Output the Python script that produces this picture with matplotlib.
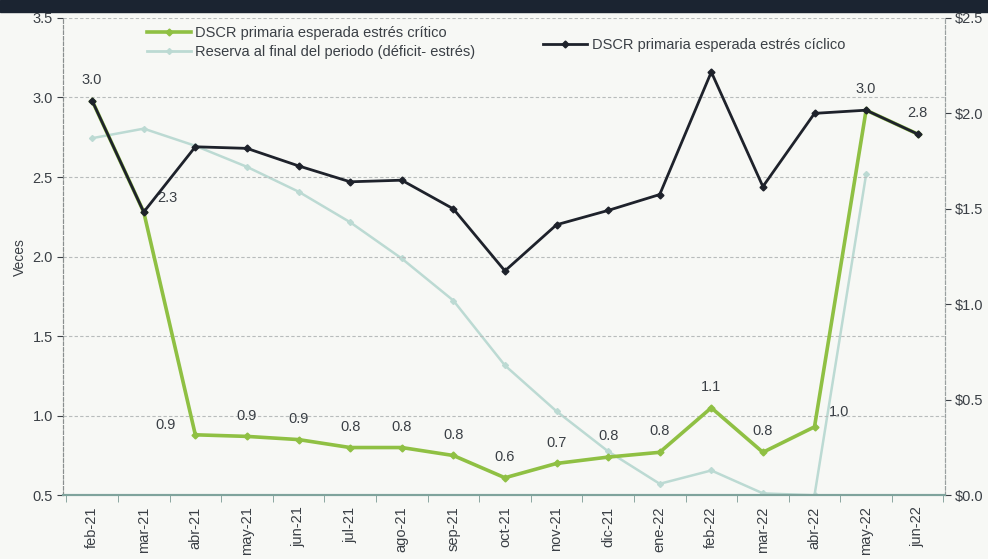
import numpy as np
import matplotlib.pyplot as plt
from matplotlib.patches import Rectangle

plt.rcParams['font.family'] = ['Liberation Sans', 'DejaVu Sans']

months = ["feb-21", "mar-21", "abr-21", "may-21", "jun-21", "jul-21", "ago-21", "sep-21",
          "oct-21", "nov-21", "dic-21", "ene-22", "feb-22", "mar-22", "abr-22", "may-22", "jun-22"]
ciclico = [2.98, 2.28, 2.69, 2.68, 2.57, 2.47, 2.48, 2.30, 1.91, 2.20, 2.29, 2.39,
           3.16, 2.44, 2.90, 2.92, 2.77]
critico = [2.98, 2.28, 0.88, 0.87, 0.85, 0.80, 0.80, 0.75, 0.61, 0.70, 0.74, 0.77,
           1.05, 0.77, 0.93, 2.92, 2.77]
reserva = [1.87, 1.92, 1.83, 1.72, 1.59, 1.43, 1.24, 1.02, 0.68, 0.44, 0.23, 0.06,
           0.13, 0.01, 0.0, 1.68, np.nan]
crit_labels = ["3.0", "2.3", "0.9", "0.9", "0.9", "0.8", "0.8", "0.8", "0.6", "0.7",
               "0.8", "0.8", "1.1", "0.8", "1.0", "3.0", "2.8"]

GREEN = "#8fc043"
BLACK = "#1e222b"
TEAL = "#bcdad3"
TXT = "#3a3f45"

fig = plt.figure(figsize=(9.88, 5.59), dpi=100)
fig.patch.set_facecolor("#f7f8f5")
fig.patches.append(Rectangle((0, 0.978), 1, 0.022, transform=fig.transFigure,
                             color="#1b2431", zorder=0))
ax = fig.add_axes([0.064, 0.114, 0.892, 0.854])
ax2 = ax.twinx()

x = np.arange(len(months))
ax2.plot(x, reserva, color=TEAL, lw=1.8, marker="D", ms=3)
l1, = ax.plot(x, critico, color=GREEN, lw=2.6, marker="D", ms=3.5, zorder=3)
l3, = ax.plot(x, ciclico, color=BLACK, lw=2, marker="D", ms=3.5, zorder=4)
ax.set_zorder(2)
ax2.set_zorder(1)
ax.patch.set_visible(False)
ax2.patch.set_facecolor("#f7f8f5")

for i, (v, t) in enumerate(zip(critico, crit_labels)):
    dx, dy, ha = 0, 10, "center"
    if i == 2:
        dx, dy, ha = -14, 2, "right"
    elif i == 1:
        dx, dy, ha = 10, 5, "left"
    elif i == 14:
        dx, dy, ha = 10, 6, "left"
    ax.annotate(t, (i, v), xytext=(dx, dy), textcoords="offset points", ha=ha,
                va="bottom", fontsize=10.5, color=TXT)

ax.set_xlim(-0.56, 16.52)
ax.set_ylim(0.5, 3.5)
ax2.set_ylim(0, 2.5)
ax.set_yticks([0.5, 1.0, 1.5, 2.0, 2.5, 3.0, 3.5])
ax.set_yticklabels(["0.5", "1.0", "1.5", "2.0", "2.5", "3.0", "3.5"])
ax2.set_yticks([0, 0.5, 1.0, 1.5, 2.0, 2.5])
ax2.set_yticklabels(["$0.0", "$0.5", "$1.0", "$1.5", "$2.0", "$2.5"])
ax.set_xticks(x)
ax.set_xticklabels(months, rotation=90)
ax.set_xticks(np.arange(-0.5, 17, 1), minor=True)
ax.tick_params(axis="x", which="major", length=0, pad=8, labelsize=10.5, colors=TXT)
ax.tick_params(axis="x", which="minor", length=5, color="#7a9a94")
ax.tick_params(axis="y", labelsize=10.5, colors=TXT, length=4)
ax2.tick_params(axis="y", labelsize=10.5, colors=TXT, length=4)
ax.yaxis.grid(True, ls=(0, (3, 2)), color="#b8bcbc", lw=0.8)
ax.set_ylabel("Veces", fontsize=10, color=TXT)

for a in (ax, ax2):
    a.spines["top"].set_visible(False)
    a.spines["left"].set_color("#8a8f8f")
    a.spines["left"].set_linestyle((0, (3, 2)))
    a.spines["right"].set_color("#9aa0a0")
    a.spines["right"].set_linestyle((0, (3, 2)))
    a.spines["bottom"].set_color("#7fa39c")
    a.spines["bottom"].set_linewidth(1.5)

teal_handle = plt.Line2D([], [], color=TEAL, lw=2, marker="D", ms=3)
leg1 = ax.legend([l1, teal_handle],
                 ["DSCR primaria esperada estrés crítico", "Reserva al final del periodo (déficit- estrés)"],
                 loc="upper left", bbox_to_anchor=(0.08, 1.01), frameon=False, fontsize=10.5,
                 handlelength=3, labelspacing=0.3, handletextpad=0.3)
for t in leg1.get_texts():
    t.set_color(TXT)
ax.add_artist(leg1)
leg2 = ax.legend([l3], ["DSCR primaria esperada estrés cíclico"], loc="upper left",
                 bbox_to_anchor=(0.53, 0.985), frameon=False, fontsize=10.5,
                 handlelength=3, handletextpad=0.3)
for t in leg2.get_texts():
    t.set_color(TXT)

fig.savefig("out.png", dpi=100, facecolor=fig.get_facecolor())
